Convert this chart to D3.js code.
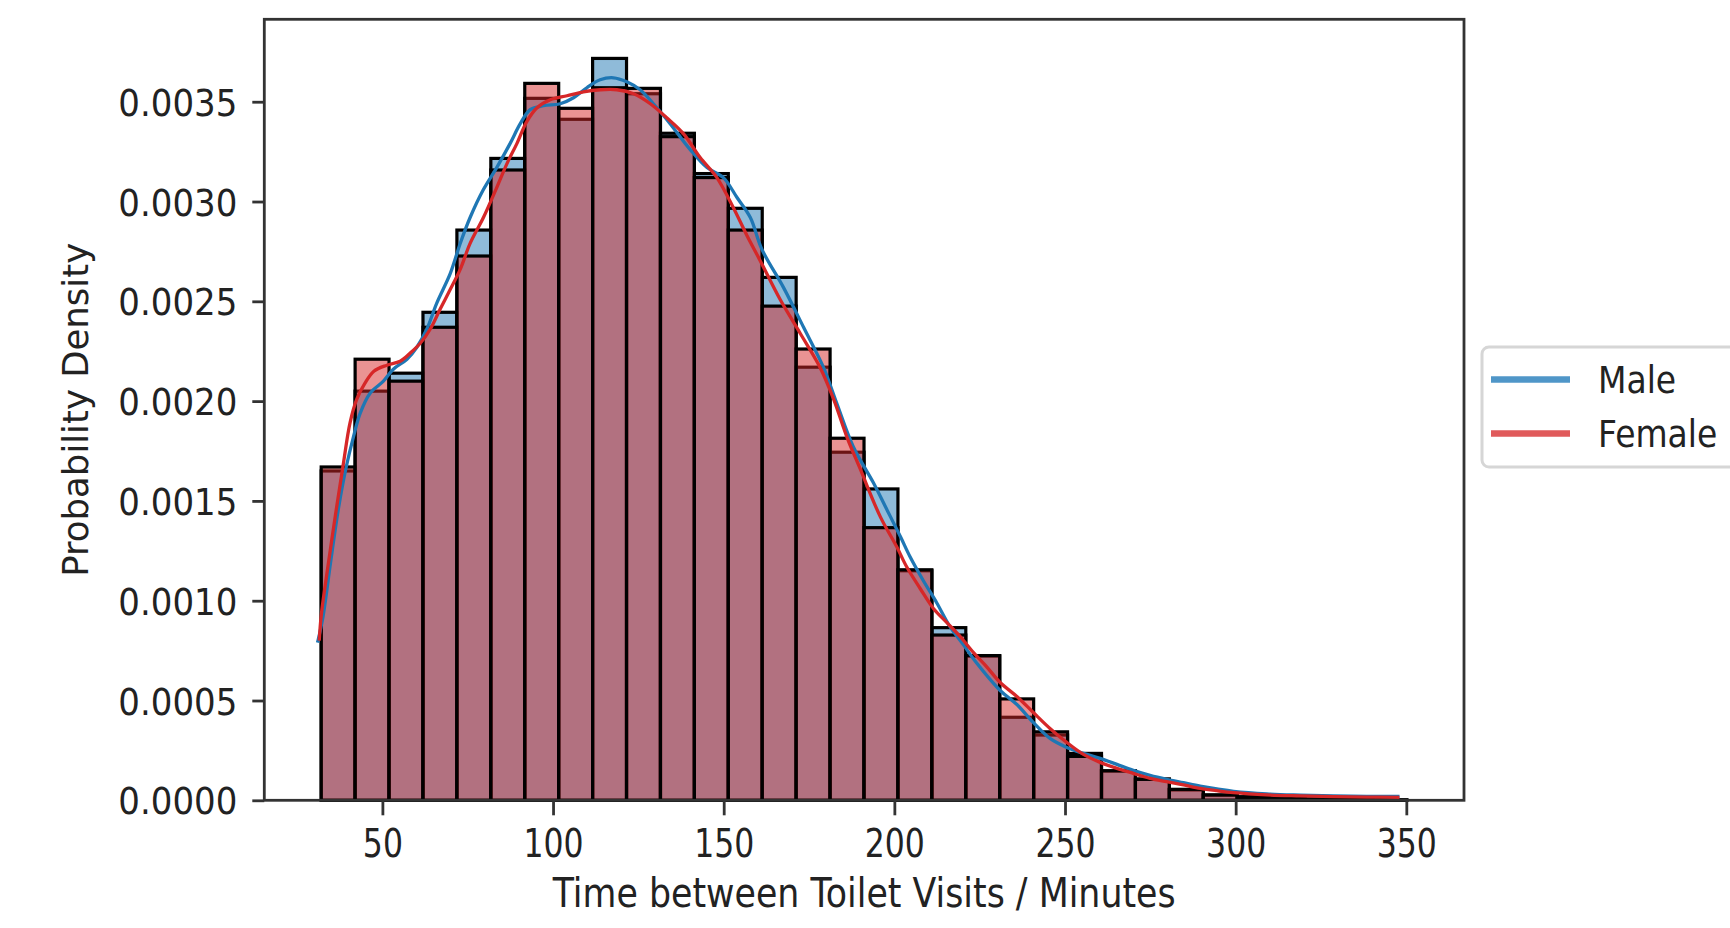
<!DOCTYPE html>
<html>
<head>
<meta charset="utf-8">
<script src="https://cdn.jsdelivr.net/npm/d3@7"></script>
<style>
  body { margin: 0; background: #fff; }
  svg { display: block; font-family: "DejaVu Sans", sans-serif; }
</style>
</head>
<body>
<div id="chart"></div>
<script>
// histogram bins (lower/upper edges, minutes)
var binEdges = [32.07, 42.01, 51.95, 61.89, 71.83, 81.77, 91.71, 101.65, 111.59, 121.53,
  131.47, 141.41, 151.35, 161.29, 171.23, 181.17, 191.11, 201.05, 210.99, 220.93,
  230.87, 240.81, 250.75, 260.69, 270.63, 280.57, 290.51, 300.45, 310.39, 320.33,
  330.27, 340.21, 350.15];

// densities
var maleHist = [0.00165, 0.00205, 0.00214, 0.002445, 0.002857, 0.003216, 0.003517, 0.003412,
  0.003717, 0.00354, 0.003342, 0.00314, 0.002966, 0.00262, 0.00217, 0.001744, 0.00156,
  0.00115, 0.000865, 0.000723, 0.000416, 0.000327, 0.000235, 0.000147, 0.000107,
  0.000052, 0.000026, 0.000018, 0.000012, 0.000007, 0.000004, 0.000002];
var femaleHist = [0.00167, 0.00221, 0.0021, 0.00237, 0.002727, 0.003158, 0.003592, 0.003467,
  0.00357, 0.003567, 0.003325, 0.00312, 0.002857, 0.002476, 0.002261, 0.001814, 0.001366,
  0.001155, 0.000828, 0.000725, 0.000508, 0.000343, 0.00022, 0.000148, 0.000105,
  0.000055, 0.000027, 0.000016, 0.00001, 0.000006, 0.000004, 0.000002];

// kde curves [minutes, density]
var maleKde = [[31.0,0.00079],[32.6,0.00092],[34.8,0.00119],[37.2,0.00147],[39.4,0.00167],
  [41.5,0.00182],[43.5,0.00194],[46.4,0.00204],[50.3,0.00210],[53.2,0.00216],[57.2,0.00221],
  [60.1,0.00227],[63.0,0.00236],[65.9,0.00249],[69.9,0.00264],[72.8,0.00279],[75.7,0.00292],
  [79.6,0.00306],[83.5,0.00317],[87.4,0.00329],[90.4,0.00339],[93.3,0.00346],[97.2,0.00348],
  [102.1,0.00349],[106.0,0.00352],[109.9,0.00357],[113.8,0.00361],[117.7,0.00362],
  [121.6,0.00360],[125.5,0.00356],[129.4,0.00349],[134.3,0.00339],[140.2,0.00326],
  [145.1,0.00317],[149.9,0.00312],[153.9,0.00302],[157.8,0.00292],[161.2,0.00276],
  [167.5,0.00257],[173.4,0.00237],[179.2,0.00217],[183.1,0.00199],[188.0,0.00177],
  [193.9,0.00159],[198.0,0.00145],[201.8,0.00132],[204.6,0.00122],[208.5,0.00110],
  [212.4,0.00099],[216.3,0.00087],[220.2,0.00078],[224.0,0.00069],[231.0,0.00055],
  [235.9,0.00048],[240.7,0.00039],[245.6,0.00031],[250.5,0.000265],[255.4,0.000235],
  [260.3,0.00021],[265.2,0.00018],[270.0,0.00015],[274.9,0.000125],[279.8,0.000105],
  [284.7,0.000088],[289.6,0.000071],[294.5,0.000057],[299.4,0.000045],[309.1,0.000032],
  [318.9,0.000026],[328.7,0.000022],[338.4,0.00002],[348.0,0.000019]];
var femaleKde = [[31.5,0.00080],[32.1,0.00093],[34.2,0.00119],[36.6,0.00147],[38.6,0.00169],
  [40.5,0.00189],[42.5,0.00201],[44.9,0.00209],[47.5,0.00215],[51.3,0.00218],[55.2,0.00220],
  [58.1,0.00224],[61.1,0.00229],[64.0,0.00236],[66.9,0.00246],[69.9,0.00256],[72.8,0.00266],
  [75.7,0.00279],[79.6,0.00292],[83.5,0.00307],[86.5,0.00319],[89.4,0.00329],[92.3,0.00340],
  [95.3,0.00347],[99.2,0.00351],[104.1,0.00353],[108.9,0.00355],[113.9,0.00356],
  [118.7,0.00356],[123.6,0.00354],[128.5,0.00349],[133.3,0.00342],[138.2,0.00334],
  [143.1,0.00322],[148.0,0.00312],[152.8,0.00297],[156.8,0.00283],[160.5,0.00271],
  [166.5,0.00251],[172.4,0.00234],[178.2,0.00217],[182.2,0.00201],[186.1,0.00182],
  [190.0,0.00166],[195.9,0.00142],[200.7,0.00127],[203.6,0.00117],[207.6,0.00106],
  [211.5,0.00096],[215.4,0.00089],[219.3,0.00082],[223.2,0.00074],[227.0,0.00067],
  [231.0,0.00059],[235.9,0.00052],[240.7,0.00044],[245.6,0.00036],[250.5,0.00029],
  [255.4,0.00023],[260.3,0.00019],[265.2,0.00016],[270.0,0.000135],[274.9,0.00011],
  [279.8,0.000093],[284.7,0.000077],[289.6,0.00006],[294.5,0.000048],[299.4,0.000038],
  [309.1,0.000027],[318.9,0.000022],[328.7,0.000018],[338.4,0.000016],[348.0,0.000015]];

var xTicks = [50, 100, 150, 200, 250, 300, 350];
var yTicks = [0, 0.0005, 0.001, 0.0015, 0.002, 0.0025, 0.003, 0.0035];
var seriesNames = ["Male", "Female"];

(function() {
  var width = 1730, height = 928;
  var pLeft = 264.3, pRight = 1464, pTop = 19.3, pBottom = 800.3;

  var svg = d3.select("#chart").append("svg")
    .attr("width", width)
    .attr("height", height);

  svg.append("rect").attr("width", width).attr("height", height).attr("fill", "#fff");

  var x = d3.scaleLinear().domain([15.4, 366.9]).range([pLeft, pRight]);
  var y = d3.scaleLinear().domain([0, 0.003913]).range([pBottom, pTop]);

  var blue = "#1f77b4", red = "#d62728";

  function drawBars(vals, color) {
    svg.append("g").selectAll("rect")
      .data(vals)
      .enter().append("rect")
      .attr("x", function(d, i) { return x(binEdges[i]); })
      .attr("width", function(d, i) { return x(binEdges[i + 1]) - x(binEdges[i]); })
      .attr("y", function(d) { return y(d); })
      .attr("height", function(d) { return y(0) - y(d); })
      .attr("fill", color)
      .attr("fill-opacity", 0.5)
      .attr("stroke", "#000")
      .attr("stroke-width", 3.2);
  }
  drawBars(maleHist, blue);
  drawBars(femaleHist, red);

  var line = d3.line()
    .x(function(d) { return x(d[0]); })
    .y(function(d) { return y(d[1]); })
    .curve(d3.curveCatmullRom);

  svg.append("path").datum(maleKde)
    .attr("d", line).attr("fill", "none").attr("stroke", blue).attr("stroke-width", 3.3);
  svg.append("path").datum(femaleKde)
    .attr("d", line).attr("fill", "none").attr("stroke", red).attr("stroke-width", 3.3);

  // axes
  var xAxis = svg.append("g")
    .attr("transform", "translate(0," + pBottom + ")")
    .call(d3.axisBottom(x).tickValues(xTicks).tickSize(15).tickSizeOuter(0));
  var yAxis = svg.append("g")
    .attr("transform", "translate(" + pLeft + ",0)")
    .call(d3.axisLeft(y).tickValues(yTicks).tickSize(12).tickSizeOuter(0).tickFormat(d3.format(".4f")));

  [xAxis, yAxis].forEach(function(a) {
    a.select(".domain").remove();
    a.selectAll("line").attr("stroke", "#333").attr("stroke-width", 2.8);
    a.selectAll("text").attr("fill", "#222").attr("font-family", "DejaVu Sans");
  });

  xAxis.selectAll("text")
    .attr("y", 0).attr("dy", null)
    .attr("font-size", 31.5)
    .attr("transform", "translate(0,57) scale(1,1.25)");
  yAxis.selectAll("text")
    .attr("x", 0).attr("dy", null)
    .attr("font-size", 34)
    .attr("transform", "translate(-27,13.5) scale(1,1.08)");

  // spines
  svg.append("rect")
    .attr("x", pLeft).attr("y", pTop)
    .attr("width", pRight - pLeft).attr("height", pBottom - pTop)
    .attr("fill", "none").attr("stroke", "#333").attr("stroke-width", 2.8);

  // axis labels
  svg.append("text")
    .attr("transform", "translate(" + ((pLeft + pRight) / 2) + ",907) scale(1,1.15)")
    .attr("text-anchor", "middle")
    .attr("font-size", 34.8).attr("fill", "#222")
    .text("Time between Toilet Visits / Minutes");

  svg.append("text")
    .attr("transform", "translate(88," + ((pTop + pBottom) / 2) + ") rotate(-90)")
    .attr("text-anchor", "middle")
    .attr("font-size", 35.5).attr("fill", "#222")
    .text("Probability Density");

  // legend
  var legend = svg.append("g");
  legend.append("rect")
    .attr("x", 1482).attr("y", 347).attr("width", 300).attr("height", 120).attr("rx", 7)
    .attr("fill", "#fff").attr("fill-opacity", 0.8)
    .attr("stroke", "#d6d6d6").attr("stroke-width", 3);
  var legendColors = ["#4f96c8", "#e05a5b"];
  seriesNames.forEach(function(name, i) {
    var ly = 379.5 + i * 54;
    legend.append("line")
      .attr("x1", 1491).attr("x2", 1570).attr("y1", ly).attr("y2", ly)
      .attr("stroke", legendColors[i]).attr("stroke-width", 6.5);
    legend.append("text")
      .attr("transform", "translate(1598," + (ly + 13.5) + ") scale(1,1.15)")
      .attr("font-size", 33).attr("fill", "#222")
      .text(name);
  });
})();
</script>
</body>
</html>
